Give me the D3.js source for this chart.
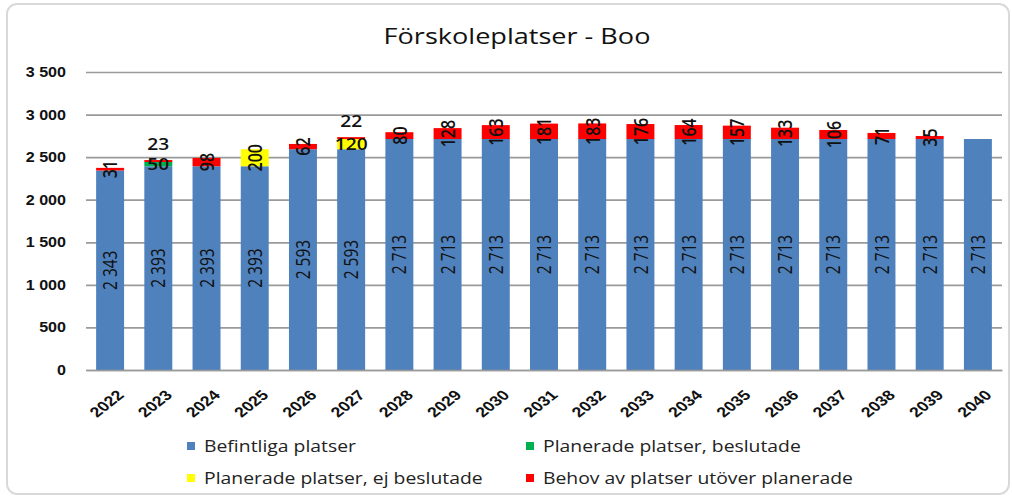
<!DOCTYPE html>
<html>
<head>
<meta charset="utf-8">
<script src="https://cdn.jsdelivr.net/npm/d3@7"></script>
<style>
  body { margin: 0; background: #fff; }
  svg { display: block; font-family: "Open Sans", sans-serif; }
</style>
</head>
<body>
<svg width="1012" height="497"></svg>
<script>
// values
var years = ["2022","2023","2024","2025","2026","2027","2028","2029","2030","2031",
             "2032","2033","2034","2035","2036","2037","2038","2039","2040"];
var befintliga = [2343,2393,2393,2393,2593,2593,2713,2713,2713,2713,2713,2713,2713,2713,2713,2713,2713,2713,2713];
var beslutade  = [0,50,0,0,0,0,0,0,0,0,0,0,0,0,0,0,0,0,0];
var ejBeslutade = [0,0,0,200,0,120,0,0,0,0,0,0,0,0,0,0,0,0,0];
var behov      = [31,23,98,0,62,22,80,128,163,181,183,176,164,157,133,106,71,35,0];
var seriesNames = ["Befintliga platser","Planerade platser, beslutade",
                   "Planerade platser, ej beslutade","Behov av platser utöver planerade"];
var yTicks = [0,500,1000,1500,2000,2500,3000,3500];

var colors = ["#4f81bd","#00b050","#ffff00","#ff0000"];
var keys = ["bef","besl","ej","behov"];

var table = years.map(function (y, i) {
  return { year: y, bef: befintliga[i], besl: beslutade[i], ej: ejBeslutade[i], behov: behov[i] };
});

var svg = d3.select("svg"),
    margin = { top: 72, right: 10, bottom: 127, left: 86 },
    width = 1012 - margin.left - margin.right,
    height = 497 - margin.top - margin.bottom;

// the source picture is stretched sideways, so text gets a horizontal scale
var sx = 1.27;

var fmt = d3.formatLocale({ decimal: ",", thousands: "\u00a0", grouping: [3], currency: ["", ""] }).format(",d");

// outer frame
svg.append("rect")
    .attr("x", 7).attr("y", 4).attr("width", 1002).attr("height", 490)
    .attr("rx", 10)
    .attr("fill", "none").attr("stroke", "#d9d9d9").attr("stroke-width", 2);

svg.append("text")
    .attr("transform", "translate(517,44) scale(1.29,1)")
    .attr("text-anchor", "middle")
    .attr("font-size", 21)
    .attr("fill", "#111")
    .text("Förskoleplatser - Boo");

var x = d3.scaleBand().domain(years).range([0, width]).paddingInner(0.42).paddingOuter(0.21),
    y = d3.scaleLinear().domain([0, 3500]).range([height, 0]);

var g = svg.append("g")
    .attr("transform", "translate(" + margin.left + "," + margin.top + ")");

// grid + y labels
var yAxis = d3.axisLeft(y).tickValues(yTicks).tickSize(-width).tickPadding(0).tickFormat(fmt);
g.append("g")
    .attr("class", "axis axis--y")
    .call(yAxis)
    .call(function (a) {
      a.select(".domain").remove();
      a.selectAll("line").attr("stroke", "#9a9a9a").attr("stroke-width", 1.7);
      a.selectAll("text")
          .attr("x", null)
          .attr("transform", "translate(-20,0) scale(1.15,1)")
          .attr("font-size", 14).attr("font-weight", "bold").attr("fill", "#111");
    });

var stacked = d3.stack().keys(keys)(table);

var layer = g.selectAll(".layer")
    .data(stacked)
    .enter().append("g")
    .attr("fill", function (d, i) { return colors[i]; });

layer.selectAll("rect")
    .data(function (d) { return d; })
    .enter().append("rect")
    .attr("x", function (d) { return x(d.data.year); })
    .attr("y", function (d) { return y(d[1]); })
    .attr("width", x.bandwidth())
    .attr("height", function (d) { return y(d[0]) - y(d[1]); });

// years whose small labels sit flat (the chart author moved them)
var flatYears = ["2023", "2027"];

stacked.forEach(function (s, si) {
  s.forEach(function (d) {
    var v = d[1] - d[0];
    if (!v) return;
    var cx = x(d.data.year) + x.bandwidth() / 2,
        cy = y((d[0] + d[1]) / 2);
    var flat = si > 0 && flatYears.indexOf(d.data.year) >= 0;
    if (flat && si === 3) cy -= 17;
    g.append("text")
        .attr("transform", "translate(" + cx + "," + cy + ") scale(" + (flat ? 1.2 : sx) + ",1)" +
                           (flat ? "" : " rotate(-90)"))
        .attr("text-anchor", "middle")
        .attr("dy", "0.36em")
        .attr("font-size", si === 0 ? 15.5 : 16)
        .attr("font-weight", si === 0 ? 500 : 600)
        .attr("fill", "#111")
        .text(fmt(v));
  });
});

// x axis
var xAxis = d3.axisBottom(x).tickSize(0).tickPadding(0);
g.append("g")
    .attr("class", "axis axis--x")
    .attr("transform", "translate(0," + height + ")")
    .call(xAxis)
    .call(function (a) {
      a.select(".domain").attr("stroke", "#9a9a9a").attr("stroke-width", 1.7);
      a.selectAll("text")
          .attr("font-size", 14).attr("font-weight", "bold").attr("fill", "#111")
          .attr("text-anchor", "end")
          .attr("y", null).attr("dy", "0.7em")
          .attr("transform", "translate(6,19) scale(" + sx + ",1) rotate(-45)");
    });

// legend
var legendPos = [[187, 446], [526, 446], [187, 478], [526, 478]];
var legend = svg.append("g");
seriesNames.forEach(function (name, i) {
  var p = legendPos[i];
  legend.append("rect")
      .attr("x", p[0]).attr("y", p[1] - 4).attr("width", 8).attr("height", 8)
      .attr("fill", colors[i]);
  legend.append("text")
      .attr("transform", "translate(" + (p[0] + 17) + "," + p[1] + ") scale(1.21,1)")
      .attr("dy", "0.35em")
      .attr("font-size", 16)
      .attr("fill", "#222")
      .text(name);
});
</script>
</body>
</html>
